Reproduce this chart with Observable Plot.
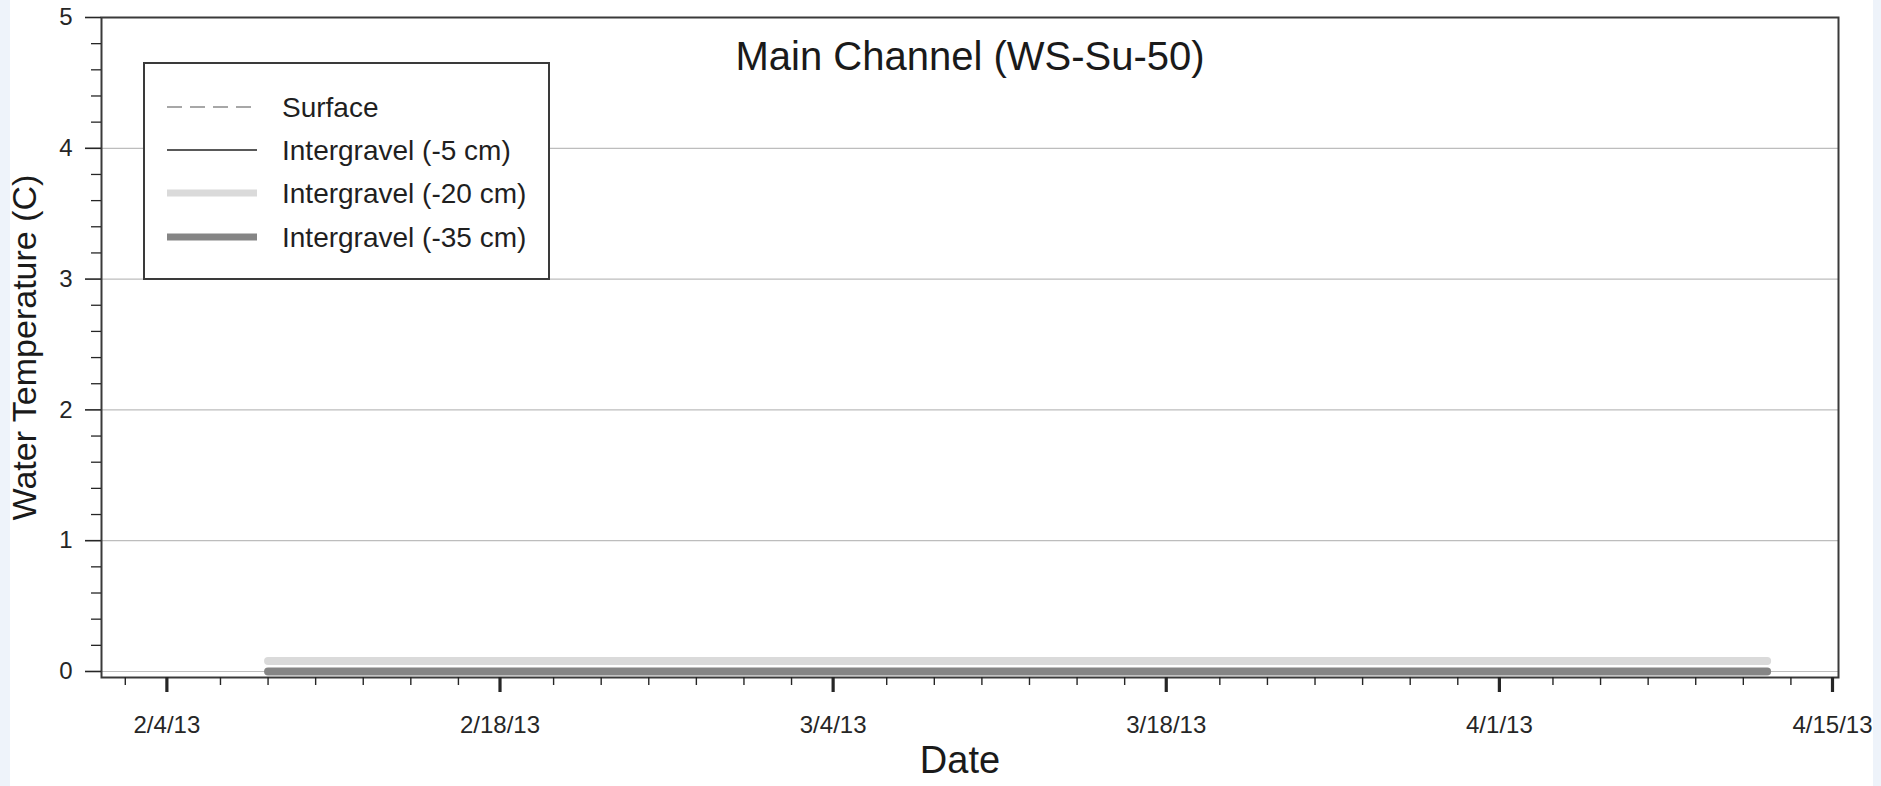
<!DOCTYPE html>
<html>
<head>
<meta charset="utf-8">
<script src="https://cdn.jsdelivr.net/npm/d3@7"></script>
<script src="https://cdn.jsdelivr.net/npm/@observablehq/plot@0.6"></script>
<style>
  body { margin: 0; background: #eef3fa; }
  #chart {
    position: relative;
    width: 1863px;
    height: 786px;
    margin-left: 10px;
    background: #fff;
    font-family: "Liberation Sans", Arial, Helvetica, sans-serif;
  }
  #chart > svg { display: block; }
  #legend { position: absolute; left: 133px; top: 62px; }
</style>
</head>
<body>
<div id="chart"><div id="legend"></div></div>
<script>
// Water temperature record, main channel site WS-Su-50, winter 2013
const title = "Main Channel (WS-Su-50)";
const xLabel = "Date";
const yLabel = "Water Temperature (C)";

const seriesNames = ["Surface", "Intergravel (-5 cm)", "Intergravel (-20 cm)", "Intergravel (-35 cm)"];

// logger readings (deg C), sampled weekly
const dates = ["2013-02-08", "2013-02-15", "2013-02-22", "2013-03-01", "2013-03-08",
               "2013-03-15", "2013-03-22", "2013-03-29", "2013-04-05", "2013-04-12"];
const surface = [0.00, 0.00, 0.00, 0.00, 0.00, 0.00, 0.00, 0.00, 0.00, 0.00];
const intergravel5 = [0.00, 0.00, 0.00, 0.00, 0.00, 0.00, 0.00, 0.00, 0.00, 0.00];
const intergravel20 = [0.08, 0.08, 0.08, 0.08, 0.08, 0.08, 0.08, 0.08, 0.08, 0.08];
const intergravel35 = [0.00, 0.00, 0.00, 0.00, 0.00, 0.00, 0.00, 0.00, 0.00, 0.00];

// axes
const xDomain = ["2013-02-01", "2013-04-15"];
const xTickDates = ["2013-02-04", "2013-02-18", "2013-03-04", "2013-03-18", "2013-04-01", "2013-04-15"];
const xTickLabels = ["2/4/13", "2/18/13", "3/4/13", "3/18/13", "4/1/13", "4/15/13"];
const yTicks = [0, 1, 2, 3, 4, 5];

const seriesValues = [surface, intergravel5, intergravel20, intergravel35];

const lineStyle = {
  "Surface": {stroke: "#8a8a8a", strokeWidth: 1.5, strokeDasharray: "15,8"},
  "Intergravel (-5 cm)": {stroke: "#222", strokeWidth: 1.5},
  "Intergravel (-20 cm)": {stroke: "#dadada", strokeWidth: 8},
  "Intergravel (-35 cm)": {stroke: "#858585", strokeWidth: 8}
};

const parse = d3.utcParse("%Y-%m-%d");
const rows = seriesNames.flatMap((name, k) =>
  dates.map((d, i) => ({series: name, date: parse(d), value: seriesValues[k][i]}))
);

const majorX = xTickDates.map(parse);
const labelOf = new Map(majorX.map((d, i) => [+d, xTickLabels[i]]));
const minorX = d3.utcDay.range(parse("2013-02-02"), parse("2013-04-15"), 2)
  .filter(d => !labelOf.has(+d));
const minorY = d3.range(1, 25).filter(i => i % 5).map(i => i / 5);

const font = "Liberation Sans, Arial, Helvetica, sans-serif";

const chart = Plot.plot({
  width: 1863,
  height: 786,
  marginLeft: 91,
  marginRight: 35,
  marginTop: 17,
  marginBottom: 109,
  style: {fontFamily: font, fontSize: "24px", color: "#262626", background: "transparent", overflow: "visible"},
  x: {type: "utc", domain: xDomain.map(parse)},
  y: {domain: [-0.046, 5]},
  marks: [
    Plot.gridY(yTicks.filter(v => v < 5), {stroke: "#bdbdbd", strokeOpacity: 1, strokeWidth: 1.2}),
    ...seriesNames.map(name =>
      Plot.lineY(rows.filter(r => r.series === name), {x: "date", y: "value", ...lineStyle[name]})
    ),
    Plot.frame({stroke: "#3a3a3a", strokeWidth: 2}),
    Plot.axisY(yTicks, {tickSize: 16, tickPadding: 13, strokeWidth: 1.6, fontSize: 24,
      tickFormat: d => d, label: null}),
    Plot.axisY(minorY, {tickSize: 10, strokeWidth: 1.3, text: null, label: null}),
    Plot.axisX(majorX, {tickSize: 15, tickPadding: 23, strokeWidth: 3.2, dx: -6, fontSize: 24,
      tickFormat: d => labelOf.get(+d), label: null}),
    Plot.axisX(minorX, {tickSize: 8, strokeWidth: 1.4, text: null, label: null}),
    Plot.text([title], {frameAnchor: "top", lineAnchor: "top", dy: 24, fontSize: 40, fill: "#1a1a1a"}),
    Plot.text([xLabel], {frameAnchor: "bottom", lineAnchor: "bottom", dy: 95, dx: -10, fontSize: 38, fill: "#1a1a1a"}),
    Plot.text([yLabel], {frameAnchor: "left", textAnchor: "middle", lineAnchor: "bottom", rotate: -90,
      dx: -66, fontSize: 34, fill: "#1a1a1a"})
  ]
});
document.getElementById("chart").prepend(chart);

// legend box
const lw = 407, lh = 218;
const legend = d3.select("#legend").append("svg")
  .attr("width", lw).attr("height", lh)
  .style("display", "block")
  .style("font-family", font);
legend.append("rect")
  .attr("x", 1).attr("y", 1).attr("width", lw - 2).attr("height", lh - 2)
  .attr("fill", "#fff").attr("stroke", "#3a3a3a").attr("stroke-width", 2);
const rowY = [45, 88, 131, 175];
seriesNames.forEach((name, i) => {
  const s = lineStyle[name];
  legend.append("line")
    .attr("x1", 24).attr("x2", 114).attr("y1", rowY[i]).attr("y2", rowY[i])
    .attr("stroke", s.stroke)
    .attr("stroke-width", Math.min(s.strokeWidth, 7))
    .attr("stroke-dasharray", s.strokeDasharray || null);
  legend.append("text")
    .attr("x", 139).attr("y", rowY[i]).attr("dy", "0.35em")
    .attr("font-size", 28).attr("fill", "#1f1f1f")
    .text(name);
});
</script>
</body>
</html>
